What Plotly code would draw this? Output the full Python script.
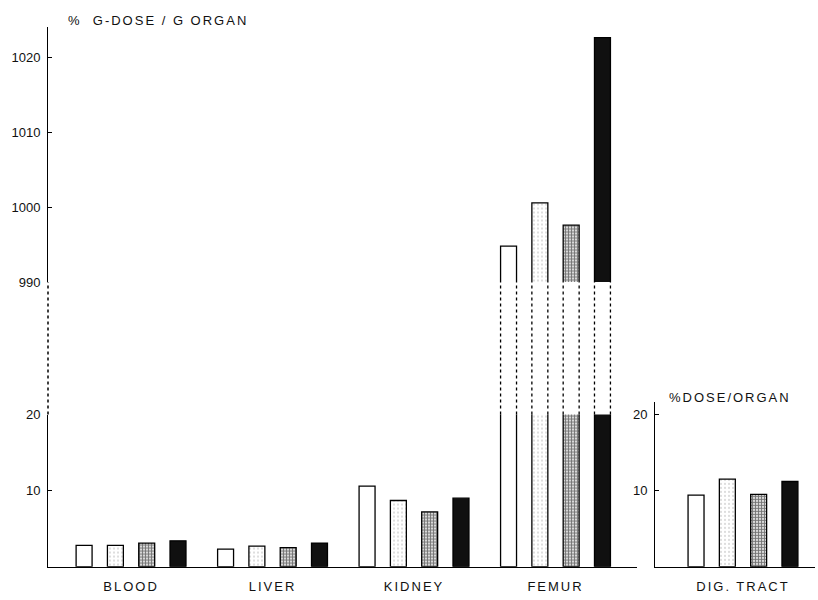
import plotly.graph_objects as go

# Organ uptake (% g-dose / g organ); femur values sit on the broken upper scale
organs = ["BLOOD", "LIVER", "KIDNEY", "FEMUR"]
series_a = [2.8, 2.3, 10.6, 994.8]
series_b = [2.8, 2.7, 8.7, 1000.6]
series_c = [3.1, 2.5, 7.2, 997.6]
series_d = [3.4, 3.1, 9.0, 1022.7]

# Digestive tract (% dose / organ)
dig_label = ["DIG. TRACT"]
dig_values = [9.4, 11.5, 9.5, 11.2]

lower_ticks = [10, 20]
upper_ticks = [990, 1000, 1010, 1020]
dig_ticks = [10, 20]

FONT = "Liberation Sans"
BARGAP = 0.115
GROUPGAP = 0.49


def spaced(s, px=2):
    return f'<span style="letter-spacing:{px}px">{s}</span>'


styles = [
    dict(color="white", line=dict(color="black", width=1.3)),
    dict(color="white", line=dict(color="black", width=1.3),
         pattern=dict(shape=".", fgcolor="#a8a8a8", bgcolor="white", size=4, solidity=0.2)),
    dict(color="#9a9a9a", line=dict(color="black", width=1.3),
         pattern=dict(shape="+", fgcolor="#0a0a0a", bgcolor="#d8d8d8", size=3, solidity=0.5)),
    dict(color="#101010", line=dict(color="black", width=1.3)),
]
all_series = [series_a, series_b, series_c, series_d]

fig = go.Figure()
for vals, st in zip(all_series, styles):
    # lower part of the broken scale (0-20)
    fig.add_trace(go.Bar(x=organs, y=vals, marker=st, xaxis="x", yaxis="y",
                         showlegend=False, hoverinfo="skip"))
    # upper part of the broken scale (990+)
    fig.add_trace(go.Bar(x=organs, y=vals, marker=st, xaxis="x", yaxis="y2",
                         showlegend=False, hoverinfo="skip"))
for v, st in zip(dig_values, styles):
    fig.add_trace(go.Bar(x=dig_label, y=[v], marker=st, xaxis="x3", yaxis="y3",
                         showlegend=False, hoverinfo="skip"))

lower_dom = [26 / 600, 182 / 600]
upper_dom = [318 / 600, 580 / 600]
main_xdom = [48 / 818, 637 / 818]

axis_common = dict(showgrid=False, zeroline=False, showline=True, linecolor="black",
                   linewidth=1, ticks="inside", ticklen=4, tickcolor="black",
                   tickfont=dict(family=FONT, size=13, color="#111"), ticklabelstandoff=4)

# dotted segments across the gap: the axis and the femur bar edges
shapes = [dict(type="line", xref="paper", yref="paper",
               x0=main_xdom[0], x1=main_xdom[0], y0=lower_dom[1], y1=upper_dom[0],
               line=dict(color="black", width=1.5, dash="dot"))]
slot = (1 - BARGAP) / 4
femur_idx = organs.index("FEMUR")
for i in range(4):
    centre = femur_idx - (1 - BARGAP) / 2 + slot * (i + 0.5)
    half = slot * (1 - GROUPGAP) / 2
    for xe in (centre - half, centre + half):
        shapes.append(dict(type="line", xref="x", yref="paper", x0=xe, x1=xe,
                           y0=lower_dom[1], y1=upper_dom[0],
                           line=dict(color="black", width=1.3, dash="dot")))

fig.update_layout(
    width=818, height=600,
    margin=dict(l=0, r=0, t=0, b=0),
    paper_bgcolor="white", plot_bgcolor="rgba(0,0,0,0)",
    barmode="group", bargap=BARGAP, bargroupgap=GROUPGAP,
    xaxis=dict(domain=main_xdom, anchor="y", range=[-0.587, 3.576],
               showgrid=False, zeroline=False, showline=True, linecolor="black",
               linewidth=1, ticks="", tickvals=organs,
               ticktext=[spaced(o) for o in organs], ticklabelstandoff=8,
               tickfont=dict(family=FONT, size=13, color="#111")),
    yaxis=dict(domain=lower_dom, anchor="x", range=[0, 20], tickvals=lower_ticks,
               **axis_common),
    yaxis2=dict(domain=upper_dom, anchor="x", range=[990, 1024.2], tickvals=upper_ticks,
                **axis_common),
    xaxis3=dict(domain=[655 / 818, 815 / 818], anchor="y3", range=[-0.622, 0.509],
                showgrid=False, zeroline=False, showline=True, linecolor="black",
                linewidth=1, ticks="", tickvals=dig_label,
                ticktext=[spaced(d) for d in dig_label], ticklabelstandoff=8,
                tickfont=dict(family=FONT, size=13, color="#111")),
    yaxis3=dict(domain=[26 / 600, 195 / 600], anchor="x3", range=[0, 21.67],
                tickvals=dig_ticks, **axis_common),
    shapes=shapes,
    annotations=[
        dict(text=spaced("%  G-DOSE / G ORGAN", 2), xref="paper", yref="paper",
             x=66 / 818, y=1 - 14 / 600, xanchor="left", yanchor="middle",
             showarrow=False, font=dict(family=FONT, size=13, color="#111")),
        dict(text=spaced("%DOSE/ORGAN", 2), xref="paper", yref="paper",
             x=667 / 818, y=1 - 401 / 600, xanchor="left", yanchor="middle",
             showarrow=False, font=dict(family=FONT, size=13, color="#111")),
    ],
)

fig.write_html("out.html")
